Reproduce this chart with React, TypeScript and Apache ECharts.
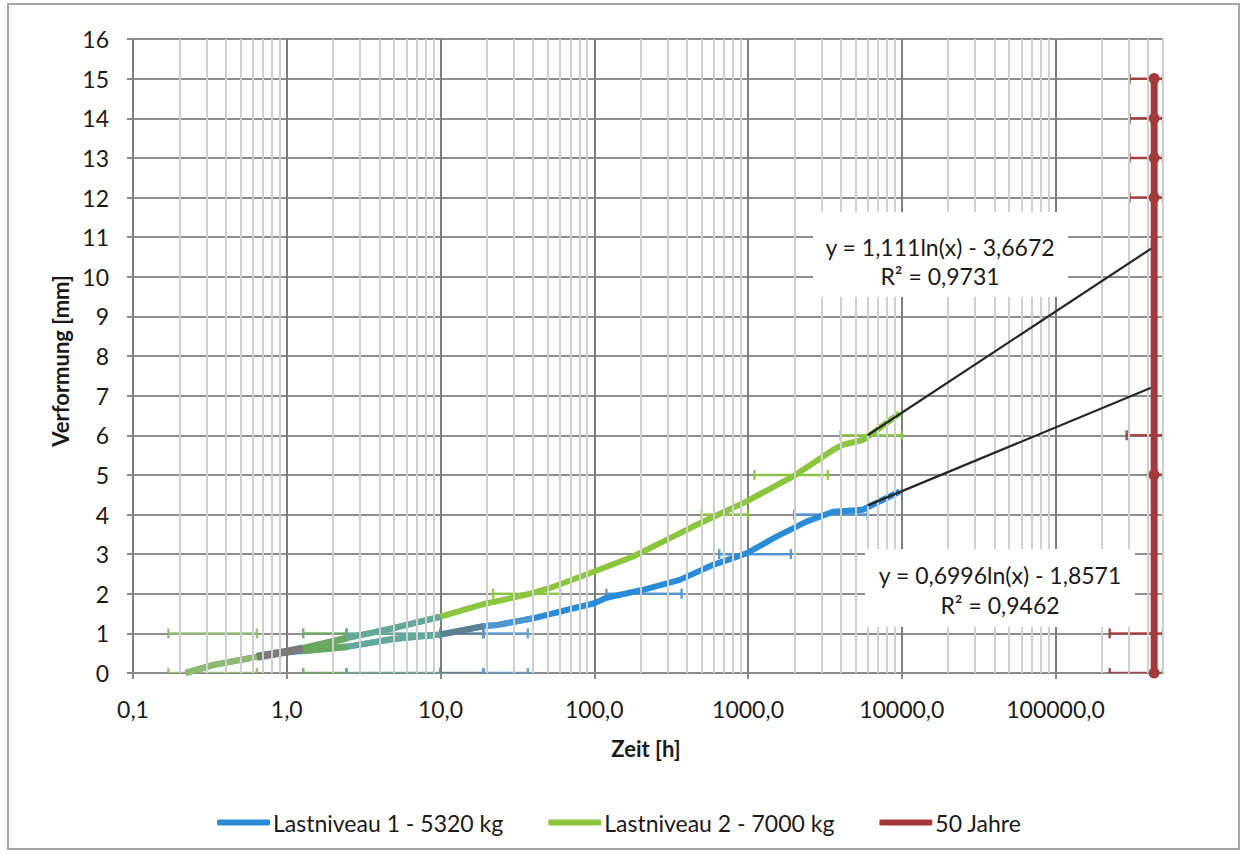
import React, { useEffect, useRef } from "react";
import * as echarts from "echarts";

const FONT = "Lato, 'Open Sans', 'DejaVu Sans', sans-serif";

// ---- axes ----
const xMin = 0.1;
const xMax = 500000;
const yMin = 0;
const yMax = 16;
const xMinorMultipliers = [2, 3, 4, 5, 6, 7, 8, 9];
const xDecades = [0.1, 1, 10, 100, 1000, 10000, 100000];

// ---- Lastniveau 1 - 5320 kg (blue) ----
const niveau1X = [0.22, 0.33, 0.64, 1.0, 1.28, 2.45, 4.9, 10, 19, 24, 40, 66, 100, 120, 208, 360, 593, 977, 1530, 2400, 3570, 5570, 6840, 9700];
const niveau1Y = [0, 0.2, 0.41, 0.52, 0.56, 0.66, 0.86, 0.97, 1.18, 1.22, 1.38, 1.59, 1.76, 1.9, 2.1, 2.35, 2.73, 3.02, 3.44, 3.82, 4.07, 4.12, 4.29, 4.58];

// ---- Lastniveau 2 - 7000 kg (green) ----
const niveau2X = [0.22, 0.33, 0.64, 1.0, 1.28, 2.45, 4.9, 10, 19, 24, 40, 51, 100, 179, 295, 486, 977, 1960, 3570, 4150, 5570, 6460, 9700];
const niveau2Y = [0, 0.2, 0.41, 0.54, 0.62, 0.88, 1.13, 1.42, 1.74, 1.82, 2.02, 2.14, 2.56, 2.94, 3.36, 3.78, 4.33, 4.96, 5.63, 5.76, 5.88, 6.05, 6.56];

// ---- trend lines (log fits, straight on the log axis) ----
const trend1X = [6000, 438000];
const trend1Y = [4.23, 7.23];
const trend2X = [6000, 438000];
const trend2Y = [6.0, 10.76];

// ---- 50 Jahre ----
const jahreX = 438000;
const jahreY = [0, 1, 2, 3, 4, 5, 6, 7, 8, 9, 10, 11, 12, 13, 14, 15];
const jahreMarkerY = [0, 5, 12, 13, 14, 15];

// ---- horizontal bars (y, x from, x to, colour index) ----
const barY = [0, 0, 0, 0, 0, 1, 1, 1, 1, 1, 2, 2, 3, 4, 4, 5, 6, 15, 14, 13, 12, 6, 5, 1, 0];
const barFrom = [0.17, 1.28, 2.45, 10, 19, 0.17, 1.28, 2.45, 10, 19, 22, 120, 650, 500, 2000, 1100, 4000, 303000, 303000, 303000, 303000, 290000, 400000, 225000, 225000];
const barTo = [0.64, 2.45, 10, 19, 37, 0.64, 2.45, 10, 19, 37, 60, 370, 1900, 1000, 6000, 3300, 10000, 500000, 500000, 500000, 500000, 500000, 500000, 500000, 500000];
const barColour = [0, 1, 2, 3, 4, 0, 1, 2, 3, 4, 6, 5, 5, 6, 5, 6, 6, 7, 7, 7, 7, 7, 7, 7, 7];

const BLUE = "#2a8cd6";
const GREEN = "#8cc63f";
const RED = "#a3393b";
const barPalette = ["#93bd73", "#6caa62", "#63a89b", "#5f8094", "#5a9bd0", "#4d96d0", "#8cc63f", RED];

function pairs(xs: number[], ys: number[]) {
  return xs.map((x, i) => [x, ys[i]]);
}
function slice(xs: number[], ys: number[], from: number, to: number) {
  return pairs(xs, ys).filter((p) => p[0] >= from && p[0] <= to);
}

export default function App() {
  const ref = useRef<HTMLDivElement>(null);

  useEffect(() => {
    if (!ref.current) return;
    const chart = echarts.init(ref.current, null, { renderer: "svg" });

    const minorLines: any[] = [];
    xDecades.forEach((d) => {
      xMinorMultipliers.forEach((m) => {
        const v = d * m;
        if (v <= xMax) minorLines.push({ xAxis: v });
      });
    });

    const lineBase = {
      type: "line",
      showSymbol: false,
      symbol: "none",
      silent: true,
      smooth: false,
    };

    const overlay = (data: number[][], color: string, width: number) => ({
      ...lineBase,
      data,
      lineStyle: { color, width, join: "round" },
      z: 4,
    });

    const option: any = {
      animation: false,
      backgroundColor: "#ffffff",
      textStyle: { fontFamily: FONT },
      grid: { left: 133, top: 39, right: 85, bottom: 182, containLabel: false },
      legend: {
        data: ["Lastniveau 1 - 5320 kg", "Lastniveau 2 - 7000 kg", "50 Jahre"],
        top: 806,
        left: 212,
        icon: "roundRect",
        itemWidth: 53,
        itemHeight: 6,
        itemGap: 45,
        selectedMode: false,
        textStyle: { fontFamily: FONT, fontSize: 23, color: "#1a1a1a", padding: [0, 0, 0, -2] },
      },
      xAxis: {
        type: "log",
        logBase: 10,
        min: xMin,
        max: xMax,
        axisLine: { show: true, lineStyle: { color: "#8a8a8a", width: 2 } },
        axisTick: { show: true, length: 6, lineStyle: { color: "#8a8a8a", width: 2 } },
        axisLabel: {
          margin: 24,
          fontFamily: FONT,
          fontSize: 23,
          color: "#1a1a1a",
          showMaxLabel: false,
          formatter: (v: number) => {
            const l = Math.log10(v);
            if (Math.abs(l - Math.round(l)) > 1e-6) return "";
            return v.toFixed(1).replace(".", ",");
          },
        },
        splitLine: {
          show: true,
          lineStyle: {
            color: ["#7d7d7d", "#7d7d7d", "#7d7d7d", "#7d7d7d", "#7d7d7d", "#7d7d7d", "#7d7d7d", "#cccccc"],
            width: 2,
          },
        },
      },
      yAxis: {
        type: "value",
        min: yMin,
        max: yMax,
        interval: 1,
        axisLine: { show: true, lineStyle: { color: "#7d7d7d", width: 2 } },
        axisTick: { show: true, length: 6, lineStyle: { color: "#8a8a8a", width: 2 } },
        axisLabel: { margin: 24, fontFamily: FONT, fontSize: 23, color: "#1a1a1a" },
        splitLine: { show: true, lineStyle: { color: "#8e8e8e", width: 2 } },
      },
      graphic: [
        {
          type: "rect",
          shape: { x: 8, y: 4, width: 1231, height: 845 },
          style: { fill: "none", stroke: "#a6a6a6", lineWidth: 2 },
          silent: true,
          z: 0,
        },
        {
          type: "text",
          x: 60,
          y: 361,
          rotation: Math.PI / 2,
          style: {
            text: "Verformung [mm]",
            fontFamily: FONT,
            fontSize: 22,
            fontWeight: "bold",
            fill: "#1a1a1a",
            textAlign: "center",
            textVerticalAlign: "middle",
          },
          z: 100,
        },
        {
          type: "text",
          x: 646,
          y: 748,
          style: {
            text: "Zeit [h]",
            fontFamily: FONT,
            fontSize: 22,
            fontWeight: "bold",
            fill: "#1a1a1a",
            textAlign: "center",
            textVerticalAlign: "middle",
          },
          z: 100,
        },
        {
          type: "rect",
          shape: { x: 813, y: 212, width: 255, height: 85 },
          style: { fill: "#ffffff" },
          silent: true,
          z: 90,
        },
        {
          type: "text",
          x: 940,
          y: 247,
          style: { text: "y = 1,111ln(x) - 3,6672", fontFamily: FONT, fontSize: 23, fill: "#1a1a1a", textAlign: "center", textVerticalAlign: "middle" },
          z: 100,
        },
        {
          type: "text",
          x: 940,
          y: 276,
          style: { text: "R² = 0,9731", fontFamily: FONT, fontSize: 23, fill: "#1a1a1a", textAlign: "center", textVerticalAlign: "middle" },
          z: 100,
        },
        {
          type: "rect",
          shape: { x: 865, y: 549, width: 270, height: 78 },
          style: { fill: "#ffffff" },
          silent: true,
          z: 90,
        },
        {
          type: "text",
          x: 1000,
          y: 575,
          style: { text: "y = 0,6996ln(x) - 1,8571", fontFamily: FONT, fontSize: 23, fill: "#1a1a1a", textAlign: "center", textVerticalAlign: "middle" },
          z: 100,
        },
        {
          type: "text",
          x: 1000,
          y: 605,
          style: { text: "R² = 0,9462", fontFamily: FONT, fontSize: 23, fill: "#1a1a1a", textAlign: "center", textVerticalAlign: "middle" },
          z: 100,
        },
      ],
      series: [
        {
          type: "line",
          name: "minor",
          data: [],
          silent: true,
          z: 1,
          markLine: {
            silent: true,
            symbol: ["none", "none"],
            label: { show: false },
            animation: false,
            lineStyle: { color: "#cfcfcf", width: 2, type: "solid" },
            data: minorLines,
          },
        },
        {
          type: "custom",
          name: "bars",
          silent: true,
          z: 2,
          clip: true,
          encode: { x: [1, 2], y: 0 },
          data: barY.map((y, i) => [y, barFrom[i], barTo[i], barColour[i]]),
          renderItem: (params: any, api: any) => {
            const y = api.value(0);
            const p1 = api.coord([api.value(1), y]);
            const p2 = api.coord([api.value(2), y]);
            const color = barPalette[api.value(3)];
            const style = { stroke: color, lineWidth: 2.5, opacity: 0.9 };
            return {
              type: "group",
              children: [
                { type: "line", shape: { x1: p1[0], y1: p1[1], x2: p2[0], y2: p2[1] }, style },
                { type: "line", shape: { x1: p1[0], y1: p1[1] - 5, x2: p1[0], y2: p1[1] + 5 }, style },
                { type: "line", shape: { x1: p2[0], y1: p2[1] - 5, x2: p2[0], y2: p2[1] + 5 }, style },
              ],
            };
          },
        },
        {
          ...lineBase,
          name: "Lastniveau 1 - 5320 kg",
          data: pairs(niveau1X, niveau1Y),
          color: BLUE,
          lineStyle: { color: BLUE, width: 6, join: "round" },
          z: 3,
        },
        {
          ...lineBase,
          name: "Lastniveau 2 - 7000 kg",
          data: pairs(niveau2X, niveau2Y),
          color: GREEN,
          lineStyle: { color: GREEN, width: 6, join: "round" },
          z: 3,
        },
        overlay(slice(niveau2X, niveau2Y, 0.2, 0.64), "#90b972", 6),
        overlay(slice(niveau2X, niveau2Y, 0.64, 1.28), "#7b7b7b", 8),
        overlay(slice(niveau1X, niveau1Y, 1.28, 2.45), "#6aa862", 7),
        overlay(slice(niveau2X, niveau2Y, 1.28, 2.45), "#6aa862", 7),
        overlay(slice(niveau1X, niveau1Y, 2.45, 10), "#62a89b", 6),
        overlay(slice(niveau2X, niveau2Y, 2.45, 10), "#62a89b", 6),
        overlay(slice(niveau1X, niveau1Y, 10, 19), "#5d7f92", 6),
        overlay(slice(niveau1X, niveau1Y, 19, 40), "#4f98cf", 6),
        {
          ...lineBase,
          name: "trend1",
          data: pairs(trend1X, trend1Y),
          lineStyle: { color: "#262626", width: 2.2 },
          z: 5,
        },
        {
          ...lineBase,
          name: "trend2",
          data: pairs(trend2X, trend2Y),
          lineStyle: { color: "#262626", width: 2.2 },
          z: 5,
        },
        {
          type: "line",
          name: "50 Jahre",
          silent: true,
          color: RED,
          showSymbol: true,
          symbolSize: 11,
          data: jahreY.map((y) => ({
            value: [jahreX, y],
            symbol: jahreMarkerY.includes(y) ? "circle" : "none",
          })),
          itemStyle: { color: RED },
          lineStyle: { color: RED, width: 7 },
          z: 6,
        },
      ],
    };

    chart.setOption(option);
    return () => chart.dispose();
  }, []);

  return (
    <div
      ref={ref}
      style={{ position: "absolute", left: 0, top: 0, width: 1248, height: 855, background: "#fff" }}
    />
  );
}
